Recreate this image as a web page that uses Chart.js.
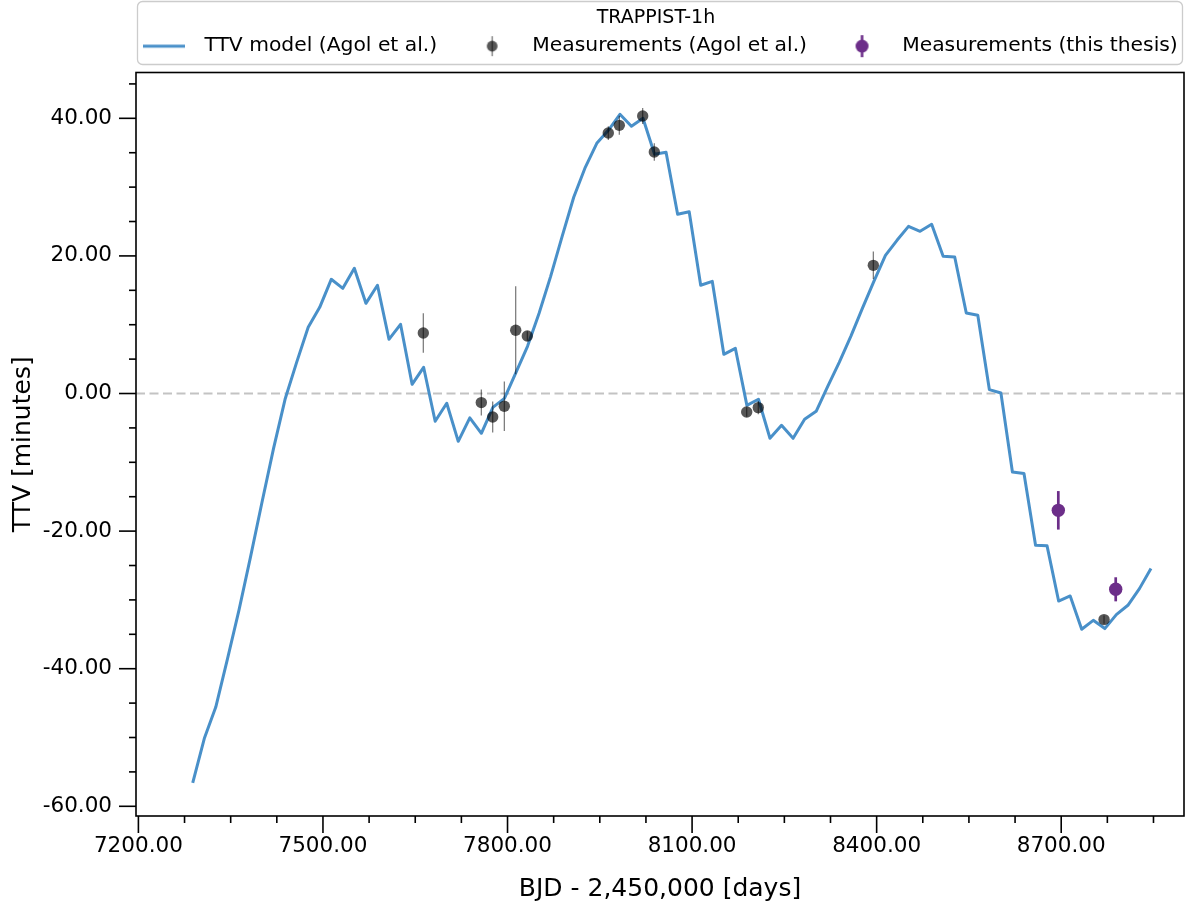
<!DOCTYPE html>
<html>
<head>
<meta charset="utf-8">
<title>TRAPPIST-1h TTV</title>
<script src="https://cdn.jsdelivr.net/npm/chart.js@4.4.1/dist/chart.umd.min.js"></script>
<style>
  html, body { margin: 0; padding: 0; background: #ffffff; }
  #wrap { width: 1186px; height: 906px; position: relative; }
</style>
</head>
<body>
<div id="wrap"><canvas id="ttv"></canvas></div>
<script>
// Transit times of the TTV model (BJD - 2,450,000) and model TTVs in minutes
const modelTimes = [
  7288.3, 7307.1, 7325.8, 7344.6, 7363.4, 7382.1, 7400.9, 7419.7, 7438.4, 7457.2,
  7476.0, 7494.7, 7513.5, 7532.3, 7551.0, 7569.8, 7588.6, 7607.3, 7626.1, 7644.9,
  7663.6, 7682.4, 7701.2, 7719.9, 7738.7, 7757.5, 7776.2, 7795.0, 7813.8, 7832.5,
  7851.3, 7870.1, 7888.8, 7907.6, 7926.4, 7945.1, 7963.9, 7982.7, 8001.4, 8020.2,
  8039.0, 8057.7, 8076.5, 8095.3, 8114.0, 8132.8, 8151.6, 8170.3, 8189.1, 8207.9,
  8226.6, 8245.4, 8264.2, 8282.9, 8301.7, 8320.5, 8339.2, 8358.0, 8376.8, 8395.5,
  8414.3, 8433.1, 8451.8, 8470.6, 8489.4, 8508.1, 8526.9, 8545.7, 8564.4, 8583.2,
  8602.0, 8620.7, 8639.5, 8658.3, 8677.0, 8695.8, 8714.6, 8733.3, 8752.1, 8770.9,
  8789.6, 8808.4, 8827.2, 8845.9
];
const modelTTV = [
  -56.61, -50.16, -45.57, -38.63, -31.51, -23.81, -15.81, -7.97, -0.84, 4.53,
  9.62, 12.53, 16.60, 15.29, 18.20, 13.11, 15.73, 7.88, 10.06, 1.34,
  3.81, -4.04, -1.42, -6.95, -3.53, -5.78, -2.01, -0.70, 3.08, 6.86,
  11.66, 17.03, 22.85, 28.52, 32.88, 36.37, 38.26, 40.58, 38.84, 40.00,
  34.77, 35.06, 26.05, 26.41, 15.73, 16.31, 5.70, 6.57, -1.72, -0.84,
  -6.51, -4.62, -6.51, -3.75, -2.59, 1.05, 4.53, 8.31, 12.38, 16.31,
  20.09, 22.27, 24.30, 23.58, 24.59, 19.94, 19.84, 11.70, 11.37, 0.57,
  0.07, -11.41, -11.64, -22.06, -22.14, -30.16, -29.43, -34.27, -32.97, -34.17,
  -32.14, -30.78, -28.36, -25.45
];

// Published transit measurements (Agol et al.)
const agolTimes = [7663.1, 7757.4, 7775.9, 7794.8, 7813.3, 7832.2, 7963.8, 7981.7, 8019.7, 8038.6, 8188.8, 8207.6, 8394.6, 8769.6];
const agolTTV   = [8.79, -1.32, -3.42, -1.86, 9.19, 8.36, 37.86, 38.98, 40.33, 35.10, -2.69, -2.05, 18.63, -32.86];
const agolErr   = [2.88, 1.89, 2.25, 3.59, 6.40, 0.70, 1.00, 1.38, 1.16, 1.26, 0.70, 0.97, 2.00, 0.60];

// New transit measurements
const thesisTimes = [8695.3, 8788.6];
const thesisTTV   = [-16.98, -28.46];
const thesisErr   = [2.80, 1.75];

// Axis ticks
const xMajorTicks = [7200, 7500, 7800, 8100, 8400, 8700];
const xMinorTicks = [7275, 7350, 7425, 7575, 7650, 7725, 7875, 7950, 8025, 8175, 8250, 8325, 8475, 8550, 8625, 8775, 8850];
const yMajorTicks = [-60, -40, -20, 0, 20, 40];
const yMinorTicks = [-55, -50, -45, -35, -30, -25, -15, -10, -5, 5, 10, 15, 25, 30, 35, 45];
const zeroLevel = 0;

const legendTitle = 'TRAPPIST-1h';
const seriesNames = ['TTV model (Agol et al.)', 'Measurements (Agol et al.)', 'Measurements (this thesis)'];

const MODEL_COLOR = '#4990c9';
const AGOL_COLOR = 'rgba(0,0,0,0.66)';
const AGOL_BAR = 'rgba(0,0,0,0.55)';
const THESIS_COLOR = '#6c2e89';
const INK = '#000000';
const FONT = '"DejaVu Sans", "Liberation Sans", sans-serif';

Chart.defaults.font.family = FONT;
Chart.defaults.color = INK;

const toPoints = (xs, ys) => xs.map((x, i) => ({ x: x, y: ys[i] }));

// Small canvases used as legend handles
function lineHandle() {
  const c = document.createElement('canvas');
  c.width = 42; c.height = 6;
  const g = c.getContext('2d');
  g.strokeStyle = MODEL_COLOR; g.lineWidth = 3;
  g.beginPath(); g.moveTo(0, 3); g.lineTo(42, 3); g.stroke();
  return c;
}
function errHandle(fill, bar, radius, barWidth, barHeight) {
  const c = document.createElement('canvas');
  const w = Math.ceil(radius * 2 + 4), h = Math.ceil(barHeight + 2);
  c.width = w; c.height = h;
  const g = c.getContext('2d');
  g.strokeStyle = bar; g.lineWidth = barWidth;
  g.beginPath(); g.moveTo(w / 2, 1); g.lineTo(w / 2, h - 1); g.stroke();
  g.fillStyle = fill;
  g.beginPath(); g.arc(w / 2, h / 2, radius, 0, Math.PI * 2); g.fill();
  return c;
}
const legendHandles = [
  lineHandle(),
  errHandle(AGOL_COLOR, AGOL_BAR, 5.4, 1.3, 20),
  errHandle(THESIS_COLOR, THESIS_COLOR, 6.5, 2.6, 22)
];

// Vertical error bars, drawn just below each measurement series
const errorBars = {
  id: 'errorBars',
  beforeDatasetDraw(chart, args) {
    const ds = chart.data.datasets[args.index];
    if (!ds.errors) return;
    const xs = chart.scales.x, ys = chart.scales.y, ctx = chart.ctx;
    ctx.save();
    ctx.strokeStyle = ds.errorColor;
    ctx.lineWidth = ds.errorWidth;
    ds.data.forEach((p, i) => {
      const px = xs.getPixelForValue(p.x);
      ctx.beginPath();
      ctx.moveTo(px, ys.getPixelForValue(p.y - ds.errors[i]));
      ctx.lineTo(px, ys.getPixelForValue(p.y + ds.errors[i]));
      ctx.stroke();
    });
    ctx.restore();
  }
};

// Dashed reference line at zero TTV
const zeroLine = {
  id: 'zeroLine',
  beforeDatasetsDraw(chart) {
    const { ctx, chartArea: a, scales: { y } } = chart;
    const py = y.getPixelForValue(zeroLevel);
    ctx.save();
    ctx.strokeStyle = '#c3c3c3';
    ctx.lineWidth = 2;
    ctx.setLineDash([9, 4.5]);
    ctx.beginPath(); ctx.moveTo(a.left, py); ctx.lineTo(a.right, py); ctx.stroke();
    ctx.restore();
  }
};

// Box frame with outward major and minor ticks
const frameTicks = {
  id: 'frameTicks',
  afterDraw(chart) {
    const { ctx, chartArea: a, scales: { x, y } } = chart;
    ctx.save();
    ctx.strokeStyle = INK;
    ctx.lineWidth = 1.6;
    ctx.strokeRect(a.left, a.top, a.right - a.left, a.bottom - a.top);
    const tick = (x1, y1, x2, y2) => { ctx.beginPath(); ctx.moveTo(x1, y1); ctx.lineTo(x2, y2); ctx.stroke(); };
    xMajorTicks.forEach(v => { const p = x.getPixelForValue(v); tick(p, a.bottom, p, a.bottom + 17); });
    xMinorTicks.forEach(v => { const p = x.getPixelForValue(v); tick(p, a.bottom, p, a.bottom + 7); });
    yMajorTicks.forEach(v => { const p = y.getPixelForValue(v); tick(a.left, p, a.left - 17, p); });
    yMinorTicks.forEach(v => { const p = y.getPixelForValue(v); tick(a.left, p, a.left - 7, p); });
    ctx.restore();
  }
};

// Legend placed over the plot width, inside a rounded frame
const legendFrame = {
  id: 'legendFrame',
  afterLayout(chart) {
    const lg = chart.legend, a = chart.chartArea;
    lg.left = a.left - 39;
    lg.right = a.right + 31;
    lg.width = lg.right - lg.left;
    lg.top = 0;
    lg.bottom = a.top - 1;
    lg.height = lg.bottom;
  },
  beforeDraw(chart) {
    const { ctx, chartArea: a } = chart;
    const x0 = a.left + 1.5, x1 = a.right - 1.5, y0 = 1.5, y1 = 64.5, r = 5;
    ctx.save();
    ctx.beginPath();
    ctx.moveTo(x0 + r, y0);
    ctx.arcTo(x1, y0, x1, y1, r);
    ctx.arcTo(x1, y1, x0, y1, r);
    ctx.arcTo(x0, y1, x0, y0, r);
    ctx.arcTo(x0, y0, x1, y0, r);
    ctx.closePath();
    ctx.fillStyle = 'rgba(255,255,255,0.8)';
    ctx.fill();
    ctx.strokeStyle = '#cccccc';
    ctx.lineWidth = 1.3;
    ctx.stroke();
    ctx.restore();
  }
};

new Chart(document.getElementById('ttv'), {
  type: 'scatter',
  data: {
    datasets: [
      {
        label: seriesNames[0],
        data: toPoints(modelTimes, modelTTV),
        showLine: true,
        borderColor: MODEL_COLOR,
        borderWidth: 3,
        borderJoinStyle: 'round',
        pointRadius: 0,
        pointHoverRadius: 0,
        tension: 0,
        fill: false,
        order: 3
      },
      {
        label: seriesNames[1],
        data: toPoints(agolTimes, agolTTV),
        errors: agolErr,
        errorColor: AGOL_BAR,
        errorWidth: 1.2,
        backgroundColor: AGOL_COLOR,
        borderWidth: 0,
        pointRadius: 5.7,
        pointHoverRadius: 5.7,
        order: 2
      },
      {
        label: seriesNames[2],
        data: toPoints(thesisTimes, thesisTTV),
        errors: thesisErr,
        errorColor: THESIS_COLOR,
        errorWidth: 2.7,
        backgroundColor: THESIS_COLOR,
        borderWidth: 0,
        pointRadius: 6.7,
        pointHoverRadius: 6.7,
        order: 1
      }
    ]
  },
  options: {
    responsive: true,
    maintainAspectRatio: false,
    animation: false,
    events: [],
    layout: { autoPadding: false, padding: { top: 6.2, right: 2, bottom: 0, left: 0 } },
    plugins: {
      tooltip: { enabled: false },
      title: { display: false },
      legend: {
        display: true,
        position: 'top',
        align: 'center',
        title: {
          display: true,
          text: legendTitle,
          color: INK,
          font: { size: 19, family: FONT },
          padding: { top: 9, bottom: -20.8 }
        },
        labels: {
          usePointStyle: true,
          pointStyleWidth: 60,
          padding: 25,
          color: INK,
          font: { size: 20.3, family: FONT },
          generateLabels: () => seriesNames.map((name, i) => ({
            text: name,
            pointStyle: legendHandles[i],
            fillStyle: 'transparent',
            strokeStyle: 'transparent',
            lineWidth: 0,
            fontColor: INK,
            hidden: false,
            datasetIndex: i
          }))
        }
      }
    },
    scales: {
      x: {
        type: 'linear',
        min: 7196.1,
        max: 8899.6,
        afterFit: (s) => { s.height = 90; },
        afterBuildTicks: (s) => { s.ticks = xMajorTicks.map(v => ({ value: v })); },
        grid: { display: false, drawTicks: false },
        border: { display: false },
        ticks: {
          autoSkip: false,
          maxRotation: 0,
          padding: 17.5,
          color: INK,
          font: { size: 21.5, family: FONT },
          callback: (v) => Number(v).toFixed(2)
        },
        title: {
          display: true,
          text: 'BJD - 2,450,000 [days]',
          color: INK,
          font: { size: 25, family: FONT },
          padding: { top: 0, bottom: 2 }
        }
      },
      y: {
        type: 'linear',
        min: -61.41,
        max: 46.66,
        afterFit: (s) => { s.width = 136; },
        afterBuildTicks: (s) => { s.ticks = yMajorTicks.map(v => ({ value: v })); },
        grid: { display: false, drawTicks: false },
        border: { display: false },
        ticks: {
          autoSkip: false,
          padding: 24,
          color: INK,
          font: { size: 21.5, family: FONT },
          callback: (v) => Number(v).toFixed(2)
        },
        title: {
          display: true,
          text: 'TTV [minutes]',
          color: INK,
          font: { size: 25, family: FONT },
          padding: { top: 8, bottom: 0 }
        }
      }
    }
  },
  plugins: [zeroLine, errorBars, frameTicks, legendFrame]
});
</script>
</body>
</html>
